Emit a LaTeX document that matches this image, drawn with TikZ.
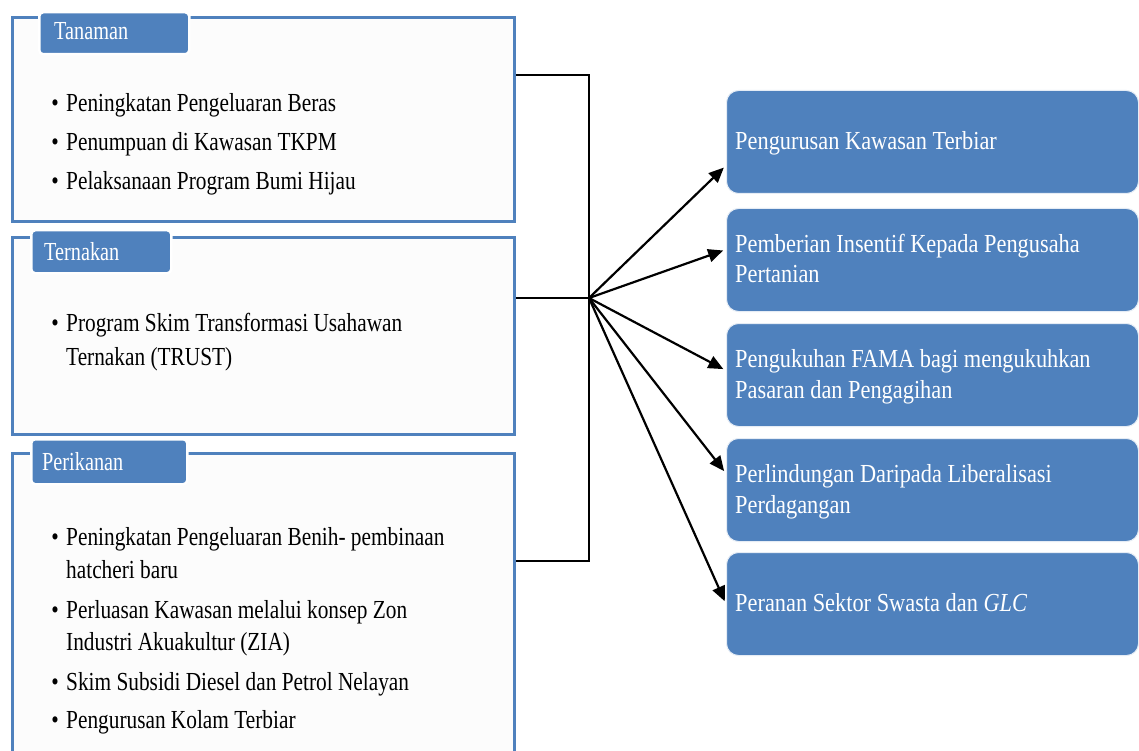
\documentclass[tikz,border=0pt]{standalone}
\usepackage{fontspec}
\setmainfont{Liberation Serif}[FakeStretch=0.82]
\newfontfamily\tabfont{Liberation Serif}[FakeStretch=0.78]
\newfontfamily\goalfont{Liberation Serif}[FakeStretch=0.86]
\usetikzlibrary{arrows.meta}
\definecolor{accent}{HTML}{4F81BD}
\definecolor{panel}{HTML}{FCFCFC}
\begin{document}
\begin{tikzpicture}[x=1pt,y=-1pt,
  panelbox/.style={draw=accent, line width=3pt, fill=panel, inner sep=0pt, anchor=north west},
  tabbox/.style={fill=accent, draw=white, line width=2.5pt, rounded corners=4pt, inner sep=0pt, anchor=north west},
  goalbox/.style={fill=accent, draw=white!85!accent, line width=1pt, rounded corners=12pt, inner sep=0pt, anchor=north west, minimum width=412pt, minimum height=103pt},
  txt/.style={font=\fontsize{26}{32}\selectfont, inner sep=0pt, anchor=base west},
  tabtxt/.style={txt, text=white, font=\tabfont\fontsize{26}{32}\selectfont},
  wtxt/.style={txt, text=white, font=\goalfont\fontsize{26}{32}\selectfont},
  bul/.style={font=\fontsize{26}{32}\selectfont, inner sep=0pt, anchor=base},
  link/.style={draw=black, line width=2pt},
  arrowline/.style={draw=black, line width=2.2pt, -{Triangle[length=15pt,width=13pt]}, shorten >=3pt}
]
\useasboundingbox (0,0) rectangle (1139,751);
\fill[white] (0,0) rectangle (1139,751);

% left panels
\node[panelbox, minimum width=502pt, minimum height=204pt] (b1) at (11,16) {};
\node[panelbox, minimum width=502pt, minimum height=197pt] (b2) at (11,236) {};
\node[panelbox, minimum width=502pt, minimum height=320pt] (b3) at (11,452) {};

% tabs
\node[tabbox, minimum width=150pt, minimum height=42pt] (t1) at (38,11) {};
\node[tabtxt] (t1l) at (54,40) {Tanaman};
\node[tabbox, minimum width=140pt, minimum height=43pt] (t2) at (30,229) {};
\node[tabtxt] (t2l) at (44,260) {Ternakan};
\node[tabbox, minimum width=156pt, minimum height=45pt] (t3) at (30,438) {};
\node[tabtxt] (t3l) at (42,470) {Perikanan};

% panel 1 items
\node[bul] (d11) at (55,112) {\textbullet};
\node[txt] (i11) at (66,112) {Peningkatan Pengeluaran Beras};
\node[bul] (d12) at (55,151) {\textbullet};
\node[txt] (i12) at (66,151) {Penumpuan di Kawasan TKPM};
\node[bul] (d13) at (55,190) {\textbullet};
\node[txt] (i13) at (66,190) {Pelaksanaan Program Bumi Hijau};

% panel 2 items
\node[bul] (d21) at (55,331) {\textbullet};
\node[txt] (i21) at (66,331) {Program Skim Transformasi Usahawan};
\node[txt] (i21b) at (66,365) {Ternakan (TRUST)};

% panel 3 items
\node[bul] (d31) at (55,545) {\textbullet};
\node[txt] (i31) at (66,545) {Peningkatan Pengeluaran Benih- pembinaan};
\node[txt] (i31b) at (66,578) {hatcheri baru};
\node[bul] (d32) at (55,618) {\textbullet};
\node[txt] (i32) at (66,618) {Perluasan Kawasan melalui konsep Zon};
\node[txt] (i32b) at (66,650) {Industri Akuakultur (ZIA)};
\node[bul] (d33) at (55,690) {\textbullet};
\node[txt] (i33) at (66,690) {Skim Subsidi Diesel dan Petrol Nelayan};
\node[bul] (d34) at (55,728) {\textbullet};
\node[txt] (i34) at (66,728) {Pengurusan Kolam Terbiar};

% right boxes
\node[goalbox] (r1) at (726,90) {};
\node[wtxt] (r1a) at (735,150) {Pengurusan Kawasan Terbiar};
\node[goalbox] (r2) at (726,208) {};
\node[wtxt] (r2a) at (735,252) {Pemberian Insentif Kepada Pengusaha};
\node[wtxt] (r2b) at (735,282) {Pertanian};
\node[goalbox] (r3) at (726,323) {};
\node[wtxt] (r3a) at (735,367) {Pengukuhan FAMA bagi mengukuhkan};
\node[wtxt] (r3b) at (735,398) {Pasaran dan Pengagihan};
\node[goalbox] (r4) at (726,438) {};
\node[wtxt] (r4a) at (735,482) {Perlindungan Daripada Liberalisasi};
\node[wtxt] (r4b) at (735,513) {Perdagangan};
\node[goalbox] (r5) at (726,552) {};
\node[wtxt] (r5a) at (735,611) {Peranan Sektor Swasta dan \textit{GLC}};

% connectors
\coordinate (j1) at (589,75);
\coordinate (hub) at (589,298);
\coordinate (j3) at (589,561);
\draw[link] (b1.east |- j1) -- (j1) -- (j3) -- (b3.east |- j3);
\draw[link] (b2.east |- hub) -- (hub);

\draw[arrowline] (hub) -- ([yshift=-23.5pt]r1.west);
\draw[arrowline] (hub) -- ([yshift=10.5pt]r2.west);
\draw[arrowline] (hub) -- ([yshift=4.5pt]r3.west);
\draw[arrowline] (hub) -- ([yshift=16.5pt]r4.west);
\draw[arrowline] (hub) -- ([yshift=0pt]r5.west);
\end{tikzpicture}
\end{document}
